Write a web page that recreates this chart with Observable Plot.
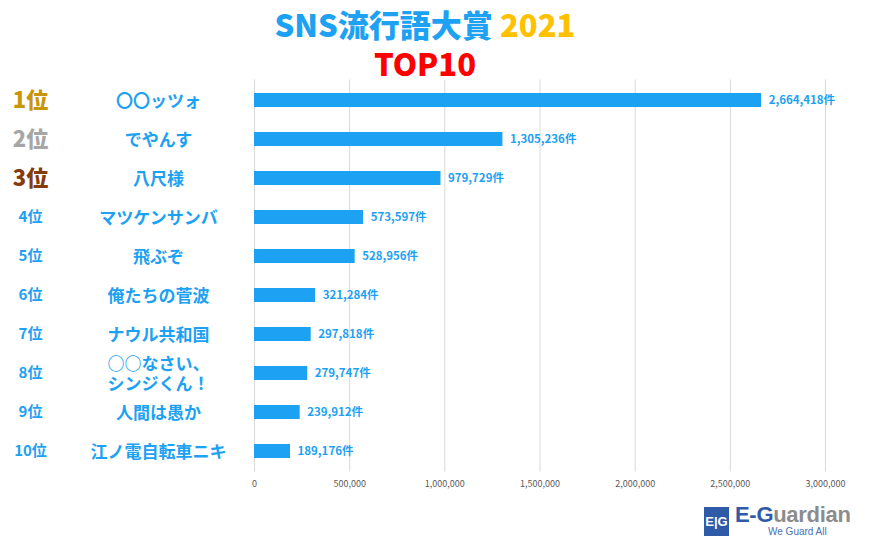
<!DOCTYPE html>
<html><head><meta charset="utf-8">
<script src="https://cdn.jsdelivr.net/npm/d3@7"></script>
<script src="https://cdn.jsdelivr.net/npm/@observablehq/plot@0.6"></script>
<style>
html,body{margin:0;padding:0;background:#fff;}
#wrap{position:relative;width:886px;height:536px;overflow:hidden;font-family:"Noto Sans CJK JP","Noto Sans",sans-serif;}
#chart{position:absolute;left:0;top:0;}
.t1{position:absolute;left:0;width:850px;text-align:center;font-weight:900;font-size:31px;line-height:1;}
#logo{position:absolute;left:704px;top:506px;}
</style>
</head><body>
<div id="wrap">
  <div id="chart"></div>
  <div class="t1" style="top:8px;"><span style="color:#1da1f2">SNS流行語大賞</span> <span style="color:#ffc000">2021</span></div>
  <div class="t1" style="top:47px;color:#ff0000;">TOP10</div>
  <div id="logo">
    <div style="position:absolute;left:0;top:1px;width:25px;height:30px;background:#2f5aa8;color:#fff;font:bold 13px 'Liberation Sans',sans-serif;text-align:center;line-height:30px;">E|G</div>
    <div style="position:absolute;left:31px;top:-4px;white-space:nowrap;font:bold 22px 'Liberation Sans Narrow','Liberation Sans',sans-serif;letter-spacing:-0.3px;"><span style="color:#2f5aa8">E-G</span><span style="color:#8c8c8c">uardian</span></div>
    <div style="position:absolute;left:64px;top:20px;white-space:nowrap;font:10px 'Liberation Sans',sans-serif;color:#4a6fb5;">We Guard All</div>
  </div>
</div>
<script>
const ranks = ["1位","2位","3位","4位","5位","6位","7位","8位","9位","10位"];
const names = ["〇〇ッツォ","でやんす","八尺様","マツケンサンバ","飛ぶぞ","俺たちの菅波","ナウル共和国","○○なさい、\nシンジくん！","人間は愚か","江ノ電自転車ニキ"];
const counts = [2664418,1305236,979729,573597,528956,321284,297818,279747,239912,189176];
const rankColors = ["#c8960c","#a6a6a6","#843c0c","#1da1f2","#1da1f2","#1da1f2","#1da1f2","#1da1f2","#1da1f2","#1da1f2"];
const xTicks = [0,500000,1000000,1500000,2000000,2500000,3000000];

const data = names.map((n,i)=>({rank:ranks[i], name:n, count:counts[i], rc:rankColors[i], top:i<3}));
const blue = "#1da1f2";
const font = "Noto Sans CJK JP";

const chart = Plot.plot({
  width: 886,
  height: 536,
  marginLeft: 254,
  marginRight: 61,
  marginTop: 79.5,
  marginBottom: 64.5,
  style: {fontFamily: font, background: "transparent"},
  x: {domain: [0, 3000000], ticks: xTicks, tickFormat: d3.format(","), tickSize: 0, tickPadding: 9, label: null},
  y: {domain: names, paddingInner: 0.63, paddingOuter: 0.315, axis: null},
  color: {type: "identity"},
  marks: [
    Plot.gridX(xTicks, {stroke: "#d9d9d9", strokeOpacity: 1, strokeWidth: 1}),
    Plot.axisX({ticks: xTicks, tickFormat: d3.format(","), tickSize: 0, tickPadding: 9, fontSize: 9, fill: "#595959", label: null}),
    Plot.barX(data, {x: "count", y: "name", fill: blue}),
    Plot.text(data, {x: "count", y: "name", text: d => d3.format(",")(d.count) + "件", textAnchor: "start", dx: 7, fill: blue, fontSize: 11.5, fontWeight: "bold"}),
    Plot.text(data, {y: "name", text: "name", frameAnchor: "left", textAnchor: "middle", dx: -96, fill: blue, fontSize: 17, fontWeight: "bold", lineHeight: 1.2}),
    Plot.text(data.filter(d => d.top), {y: "name", text: "rank", frameAnchor: "left", textAnchor: "middle", dx: -224, fill: "rc", fontSize: 22, fontWeight: "900"}),
    Plot.text(data.filter(d => !d.top), {y: "name", text: "rank", frameAnchor: "left", textAnchor: "middle", dx: -224, fill: "rc", fontSize: 15, fontWeight: "bold"})
  ]
});
document.getElementById("chart").appendChild(chart);
</script>
</body></html>
